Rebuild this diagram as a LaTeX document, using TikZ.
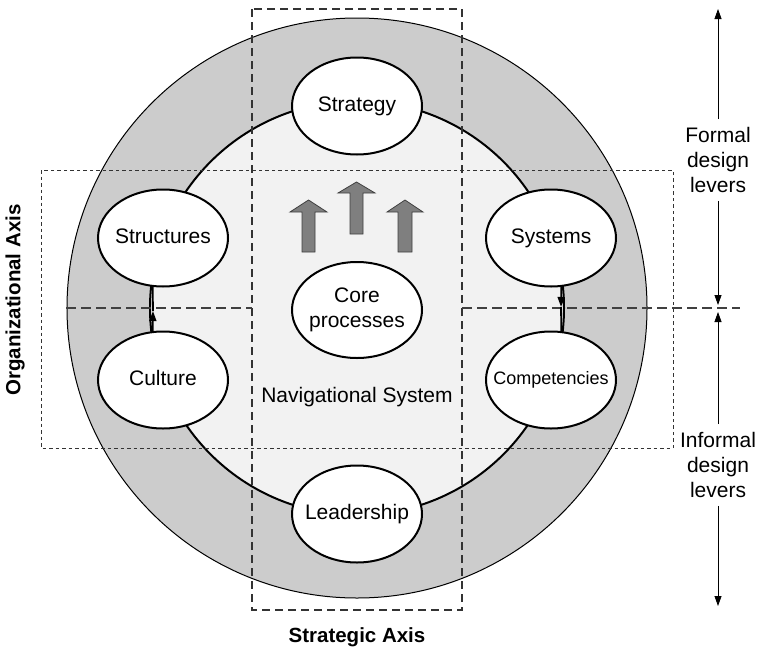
\documentclass[tikz,border=0pt]{standalone}
\usepackage{fontspec}
\setmainfont{Liberation Sans}
\usetikzlibrary{shapes.geometric,arrows.meta}
\definecolor{ringgray}{HTML}{CCCCCC}
\definecolor{corefill}{HTML}{F2F2F2}
\definecolor{blockgray}{HTML}{7F7F7F}
\definecolor{blockedge}{HTML}{404040}
% text of a lever, kept out of the ellipse's size computation
\newcommand\lvtext[1]{\makebox[0pt]{\begin{tabular}{@{}c@{}}#1\end{tabular}}}
\tikzset{
  lever/.style={ellipse, draw=black, line width=2pt, fill=white,
    minimum width=130pt, minimum height=97pt, inner sep=0pt,
    font=\fontsize{21}{25}\selectfont},
  conn/.style={line width=1.8pt},
  conntip/.style={-{Triangle[length=10pt,width=7pt]}},
  sidearrow/.style={line width=0.8pt, -{Triangle[length=10pt,width=7pt]}},
  sidelabel/.style={font=\fontsize{21}{25}\selectfont, align=center, inner sep=8pt},
  axislabel/.style={font=\fontsize{20.5}{24}\selectfont\bfseries},
  orgbox/.style={line width=1pt, dash pattern=on 3.5pt off 3pt, draw=black!80},
  stratbox/.style={line width=1.3pt, dash pattern=on 8pt off 5pt, draw=black!80},
  midline/.style={line width=1.3pt, dash pattern=on 10pt off 5pt, draw=black!75},
  block/.style={fill=blockgray, draw=blockedge, line width=0.8pt}
}
\begin{document}
\begin{tikzpicture}[x=1pt,y=-1pt]
\useasboundingbox (0,0) rectangle (757,653);

% outer ring and navigational core
\draw[fill=ringgray, line width=1pt] (357,308) circle (290);
\draw[fill=corefill, line width=2pt] (357,308) circle (207);

% axes as dashed boxes
\draw[orgbox] (41,170) rectangle (673,448);
\draw[stratbox] (252,9) rectangle (462,610);
\draw[midline] (66,308) -- (252,308);
\draw[midline] (462,308) -- (740,308);

% design levers around the circle
\node[lever] (strategy) at (357,106) {\lvtext{Strategy}};
\node[lever] (structures) at (163,238) {\lvtext{Structures}};
\node[lever] (systems) at (551,238) {\lvtext{Systems}};
\node[lever] (culture) at (163,380) {\lvtext{Culture}};
\node[lever, font=\fontsize{18}{22}\selectfont] (competencies) at (551,380) {\lvtext{Competencies}};
\node[lever] (leadership) at (357,514) {\lvtext{Leadership}};
\node[lever, minimum height=96pt] (core) at (357,310) {\lvtext{Core\\processes}};
\node[font=\fontsize{21}{25}\selectfont] (nav) at (357,397) {Navigational System};

% links between informal and formal levers
\coordinate (upmid) at (153,311);
\coordinate (downmid) at (561,307);
\draw[conn, conntip] (culture.102) -- (upmid);
\draw[conn] (upmid) -- (structures.258);
\draw[conn, conntip] (systems.282) -- (downmid);
\draw[conn] (downmid) -- (competencies.78);

% upward block arrows above the core processes
\draw[block] (302,252) -- (302,212) -- (290,212) -- (308.5,200) -- (327,212) -- (315,212) -- (315,252) -- cycle;
\draw[block] (350,234) -- (350,193) -- (338,193) -- (356.5,182) -- (375,193) -- (363,193) -- (363,234) -- cycle;
\draw[block] (398,252) -- (398,212) -- (387,212) -- (405,200) -- (423,212) -- (412,212) -- (412,252) -- cycle;

% side scale of formal and informal levers
\node[sidelabel] (formal) at (718,160) {Formal\\design\\levers};
\node[sidelabel] (informal) at (718,465) {Informal\\design\\levers};
\coordinate (ftop) at (718,9);
\coordinate (fbot) at (718,305);
\coordinate (itop) at (718,312);
\coordinate (ibot) at (718,606);
\draw[sidearrow] (formal.north) -- (ftop);
\draw[sidearrow] (formal.south) -- (fbot);
\draw[sidearrow] (informal.north) -- (itop);
\draw[sidearrow] (informal.south) -- (ibot);

% axis titles
\node[axislabel] (stratlabel) at (357,637) {Strategic Axis};
\node[axislabel, rotate=90] (orglabel) at (15,300) {Organizational Axis};
\end{tikzpicture}
\end{document}
